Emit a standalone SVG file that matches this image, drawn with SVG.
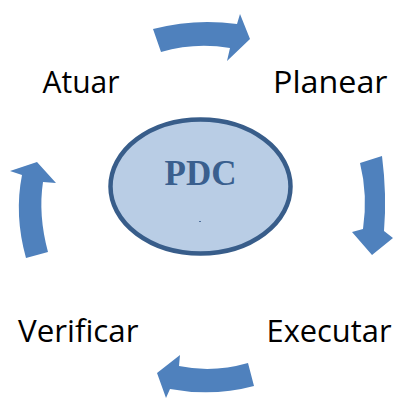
<svg xmlns="http://www.w3.org/2000/svg" width="393" height="399" viewBox="0 0 393 399">
<style>
.arrow{fill:#4f81bd;stroke:none}
.lbl{font-family:"Open Sans","Liberation Sans",sans-serif;font-size:31px;fill:#000}
.pdc{font-family:"Liberation Serif",serif;font-weight:bold;font-size:35px;fill:#3a5f8e}
</style>
<rect width="393" height="399" fill="#fff"/>
<g id="connectors">
<path class="arrow" d="M153,29 Q195,18 237,24 L240,14 L250,39 L227,61 L230,48 Q195,42 161,52 Z"/>
<path class="arrow" d="M360,163 L382,156 Q387,195 384,231 L393,238 L372,255 L352,232 L363,229 Q368,195 360,163 Z"/>
<path class="arrow" d="M248,363 Q213,373 179,366 L180,355 L157,373 L166,398 L170,389 Q213,397 254,386 Z"/>
<path class="arrow" d="M26,258 Q14,215 22,175 L10,171 L37,162 L56,183 L43,182 Q38,215 48,252 Z"/>
</g>
<g id="pdc">
<ellipse cx="200.5" cy="186.5" rx="90" ry="67" fill="#b9cde5" stroke="#385d8a" stroke-width="4.5"/>
<text class="pdc" x="200.5" y="185" text-anchor="middle">PDC</text>
<rect x="199" y="221" width="2" height="1" fill="#4f6f9a"/>
</g>
<g id="atuar"><text class="lbl" x="42.5" y="93.3" textLength="77" lengthAdjust="spacingAndGlyphs">Atuar</text></g>
<g id="planear"><text class="lbl" x="273" y="93.3" textLength="114.5" lengthAdjust="spacingAndGlyphs">Planear</text></g>
<g id="verificar"><text class="lbl" x="18" y="342" textLength="120.5" lengthAdjust="spacingAndGlyphs">Verificar</text></g>
<g id="executar"><text class="lbl" x="266.5" y="341.7" textLength="125" lengthAdjust="spacingAndGlyphs">Executar</text></g>
</svg>
